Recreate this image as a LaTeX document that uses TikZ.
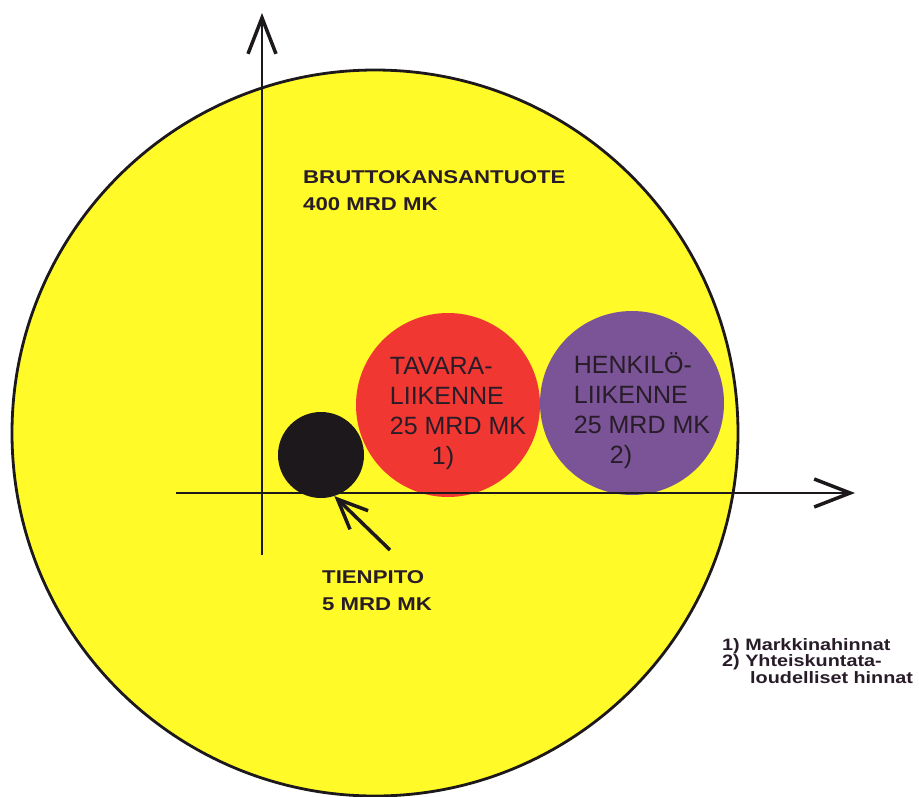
\documentclass[tikz,border=0pt]{standalone}
\usepackage{fontspec}
\setmainfont{Liberation Sans}
\newfontfamily\widefont[FakeStretch=1.2]{Liberation Sans Bold}
\usetikzlibrary{arrows.meta}

\definecolor{bktyellow}{RGB}{255,250,40}
\definecolor{bktred}{RGB}{240,55,50}
\definecolor{bktpurple}{RGB}{122,84,150}
\definecolor{bktblack}{RGB}{28,24,28}
\definecolor{bktink}{RGB}{40,28,40}

\begin{document}
\begin{tikzpicture}[x=1pt,y=-1pt,
        ball/.style={circle,inner sep=0pt,minimum size=#1},
        ball text/.style={align=left,inner sep=0pt,text=bktink,font=\fontsize{25}{30}\selectfont},
        bold text/.style={align=left,inner sep=0pt,anchor=north west,text=bktink,font=\widefont\fontsize{18.5}{27}\selectfont},
        legend text/.style={align=left,inner sep=0pt,anchor=north west,text=bktink,font=\widefont\fontsize{16.5}{16.5}\selectfont},
        axis/.style={line width=2.8pt,draw=bktblack,-{Straight Barb[length=36pt,width=28pt,line width=3.5pt]}},
        pointer/.style={line width=3.5pt,draw=bktblack,-{Straight Barb[length=30pt,width=26pt,line width=3.5pt]}}]
        \useasboundingbox[fill=white] (0,0) rectangle (919,796);

        \node[ball=726pt,draw=bktblack,line width=2.8pt,fill=bktyellow] (ball 0) at (375,433) {};
        \node[ball=86pt,fill=bktblack] (ball 1) at (321,455) {};
        \node[ball=184pt,fill=bktred] (ball 2) at (448,405) {};
        \node[ball=184pt,fill=bktpurple] (ball 3) at (632,403) {};

        \coordinate (y start) at (262,555);
        \coordinate (y end) at (262,13);
        \coordinate (x start) at (176,493);
        \coordinate (x end) at (855,493);
        \draw[axis] (y start) -- (y end);
        \draw[axis] (x start) -- (x end);

        \node[bold text] (text 0) at (303,170) {BRUTTOKANSANTUOTE\\400 MRD MK};
        \node[ball text] (text 2) at ([xshift=10pt,yshift=-8pt]ball 2.center) {TAVARA-\\LIIKENNE\\25 MRD MK\\\hspace*{42pt}1)};
        \node[ball text] (text 3) at ([xshift=10pt,yshift=-8pt]ball 3.center) {HENKILÖ-\\LIIKENNE\\25 MRD MK\\\hspace*{36pt}2)};
        \node[bold text] (text 1) at (322,570) {TIENPITO\\5 MRD MK};
        \node[legend text] (text 4) at (722,638) {1) Markkinahinnat\\2) Yhteiskuntata-\\\hspace*{28pt}loudelliset hinnat};

        \coordinate (tail) at (390,550);
        \draw[pointer] (tail) -- (ball 1.-72);

    \end{tikzpicture}
\end{document}
